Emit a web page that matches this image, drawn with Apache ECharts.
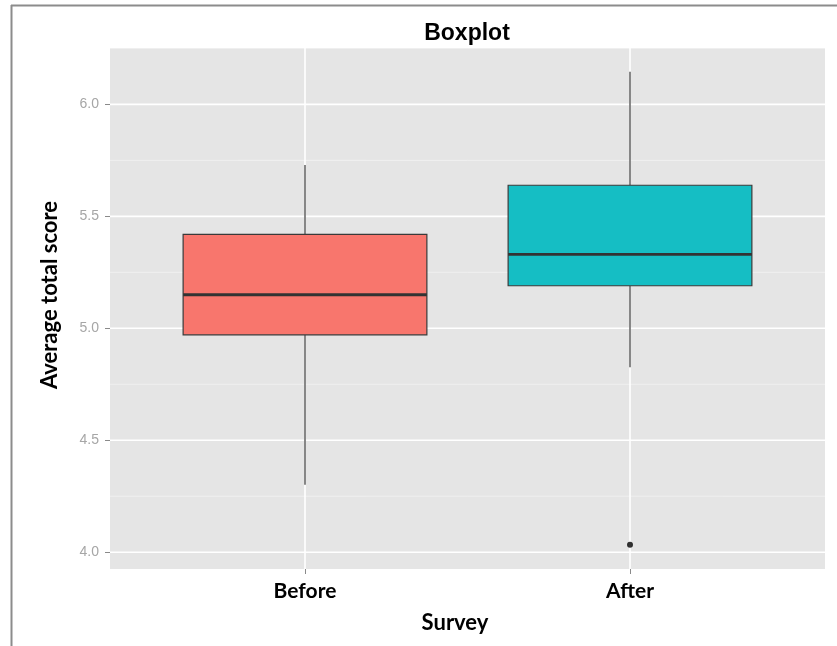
<!DOCTYPE html>
<html>
<head>
<meta charset="utf-8">
<script src="https://cdn.jsdelivr.net/npm/echarts@6/dist/echarts.min.js"></script>
<style>html,body{margin:0;padding:0;background:#fff}#c{width:837px;height:646px}</style>
</head>
<body>
<div id="c"></div>
<script>
// ---- data ----
var categories = ['Before', 'After'];
var lowerWhisker = [4.301, 4.826];
var q1Values = [4.971, 5.190];
var medianValues = [5.150, 5.330];
var q3Values = [5.420, 5.639];
var upperWhisker = [5.729, 6.146];
var outlierCategory = ['After'];
var outlierValues = [4.033];
var yMajorTicks = [4.0, 4.5, 5.0, 5.5, 6.0];
var yMinorTicks = [4.25, 4.75, 5.25, 5.75, 6.25];
var fillColors = ['#F8766D', '#15BEC4'];

// ---- build ----
var boxData = categories.map(function (c, i) {
  return [i + 1, lowerWhisker[i], q1Values[i], medianValues[i], q3Values[i], upperWhisker[i]];
});
var outlierData = outlierValues.map(function (v, i) {
  return [categories.indexOf(outlierCategory[i]) + 1, v];
});
var gridData = [];
yMajorTicks.forEach(function (v) { gridData.push(['h', v, 1]); });
yMinorTicks.forEach(function (v) { gridData.push(['h', v, 0]); });
categories.forEach(function (c, i) { gridData.push(['v', i + 1, 1]); });

var chart = echarts.init(document.getElementById('c'), null, {renderer: 'canvas'});
var BOX_HALF = 0.375;

chart.setOption({
  animation: false,
  backgroundColor: '#ffffff',
  grid: {left: 110, right: 12, top: 48, bottom: 77, show: true, backgroundColor: '#E5E5E5', borderWidth: 0},
  xAxis: {
    type: 'value', min: 0.4, max: 2.6,
    axisLine: {show: false},
    splitLine: {show: false},
    axisTick: {show: true, customValues: [1, 2], length: 5, lineStyle: {color: '#8a8a8a', width: 1}},
    axisLabel: {
      customValues: [1, 2], margin: 12,
      formatter: function (v) { return categories[Math.round(v) - 1] || ''; },
      color: '#000', fontSize: 21, fontWeight: 'bold', fontFamily: 'Lato'
    }
  },
  yAxis: {
    type: 'value', min: 3.925, max: 6.252,
    axisLine: {show: false},
    splitLine: {show: false},
    axisTick: {show: true, customValues: yMajorTicks, length: 5, lineStyle: {color: '#8a8a8a', width: 1}},
    axisLabel: {
      customValues: yMajorTicks, margin: 11,
      formatter: function (v) { return v.toFixed(1); },
      color: '#a6a6a6', fontSize: 14, fontFamily: 'Liberation Sans'
    }
  },
  graphic: [
    {type: 'line', shape: {x1: 11, y1: 5.5, x2: 837, y2: 5.5}, style: {stroke: '#8c8c8c', lineWidth: 2}},
    {type: 'line', shape: {x1: 11.5, y1: 5, x2: 11.5, y2: 646}, style: {stroke: '#8c8c8c', lineWidth: 2}},
    {type: 'text', x: 467, y: 34, style: {text: 'Boxplot', font: 'bold 23px "Liberation Sans", Arial', fill: '#000', textAlign: 'center', textVerticalAlign: 'middle'}},
    {type: 'text', x: 455, y: 623, style: {text: 'Survey', font: 'bold 22px Lato', fill: '#000', textAlign: 'center', textVerticalAlign: 'middle'}},
    {type: 'text', x: 50, y: 295, rotation: Math.PI / 2, style: {text: 'Average total score', font: 'bold 22px Lato', fill: '#000', textAlign: 'center', textVerticalAlign: 'middle'}}
  ],
  series: [
    {
      type: 'custom', z: 1, silent: true,
      data: gridData,
      encode: {x: -1, y: -1},
      renderItem: function (params, api) {
        var cs = params.coordSys;
        var kind = api.value(0);
        var v = api.value(1);
        var major = api.value(2) === 1;
        var lw = major ? 1.6 : 0.8;
        var stroke = major ? '#ffffff' : '#F2F2F2';
        if (kind === 'h') {
          var y = api.coord([1, v])[1];
          if (y < cs.y || y > cs.y + cs.height) return null;
          return {type: 'line', shape: {x1: cs.x, y1: y, x2: cs.x + cs.width, y2: y}, style: {stroke: stroke, lineWidth: lw}};
        } else {
          var x = api.coord([v, 5])[0];
          return {type: 'line', shape: {x1: x, y1: cs.y, x2: x, y2: cs.y + cs.height}, style: {stroke: stroke, lineWidth: lw}};
        }
      }
    },
    {
      type: 'custom', z: 3,
      data: boxData,
      encode: {x: 0, y: [1, 2, 3, 4, 5]},
      renderItem: function (params, api) {
        var xi = api.value(0);
        var lo = api.coord([xi, api.value(1)]);
        var q1 = api.coord([xi, api.value(2)]);
        var md = api.coord([xi, api.value(3)]);
        var q3 = api.coord([xi, api.value(4)]);
        var hi = api.coord([xi, api.value(5)]);
        var left = api.coord([xi - BOX_HALF, api.value(3)])[0];
        var right = api.coord([xi + BOX_HALF, api.value(3)])[0];
        var stroke = '#3a3a3a';
        return {
          type: 'group',
          children: [
            {type: 'line', shape: {x1: hi[0], y1: hi[1], x2: q3[0], y2: q3[1]}, style: {stroke: stroke, lineWidth: 1.2}},
            {type: 'line', shape: {x1: q1[0], y1: q1[1], x2: lo[0], y2: lo[1]}, style: {stroke: stroke, lineWidth: 1.2}},
            {type: 'rect', shape: {x: left, y: q3[1], width: right - left, height: q1[1] - q3[1]},
              style: {fill: fillColors[params.dataIndex], stroke: stroke, lineWidth: 1.2}},
            {type: 'line', shape: {x1: left, y1: md[1], x2: right, y2: md[1]}, style: {stroke: '#333333', lineWidth: 2.8}}
          ]
        };
      }
    },
    {
      type: 'scatter', z: 4,
      data: outlierData,
      symbol: 'circle', symbolSize: 6,
      itemStyle: {color: '#000'}
    }
  ]
});
</script>
</body>
</html>
